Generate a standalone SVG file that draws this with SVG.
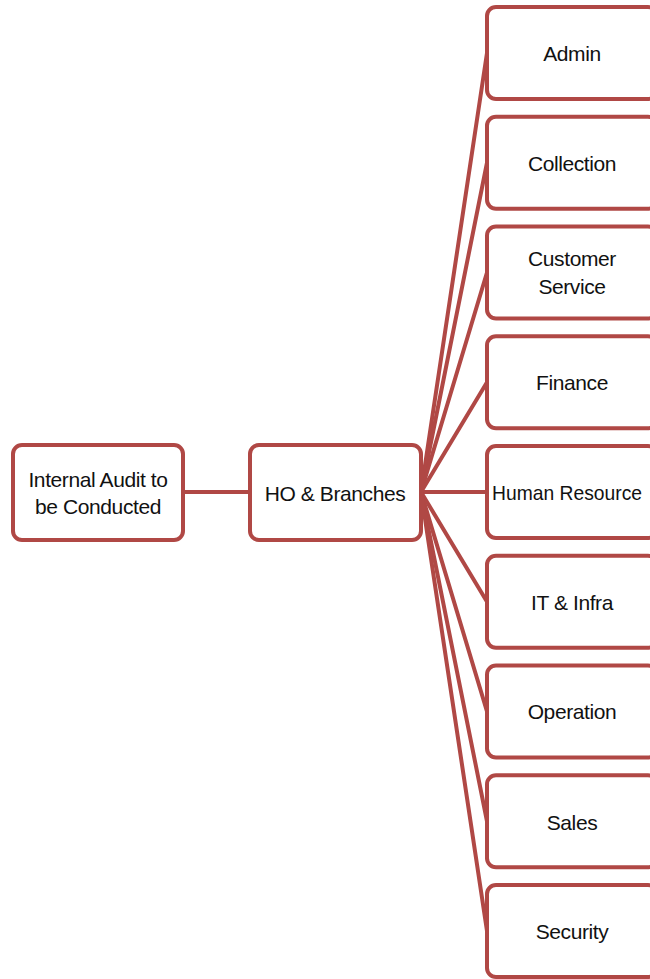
<svg xmlns="http://www.w3.org/2000/svg" width="650" height="979" viewBox="0 0 650 979">
<style>
.box{fill:#ffffff;stroke:#b04845;stroke-width:4}
.ln{stroke:#b04845;stroke-width:4;fill:none;stroke-linecap:round}
text{font-family:"Liberation Sans",Arial,sans-serif;font-size:21px;letter-spacing:-0.4px;fill:#111111;text-anchor:middle}
</style>
<rect width="650" height="979" fill="#ffffff"/>
<g id="connectors">
<line class="ln" x1="183" y1="492" x2="250" y2="492"/>
<line class="ln" x1="421" y1="492" x2="487" y2="53"/>
<line class="ln" x1="421" y1="492" x2="487" y2="162.75"/>
<line class="ln" x1="421" y1="492" x2="487" y2="272.5"/>
<line class="ln" x1="421" y1="492" x2="487" y2="382.25"/>
<line class="ln" x1="421" y1="492" x2="487" y2="492"/>
<line class="ln" x1="421" y1="492" x2="487" y2="601.75"/>
<line class="ln" x1="421" y1="492" x2="487" y2="711.5"/>
<line class="ln" x1="421" y1="492" x2="487" y2="821.25"/>
<line class="ln" x1="421" y1="492" x2="487" y2="931"/>
</g>
<g id="root">
<rect class="box" x="13" y="445" width="170" height="95" rx="9"/>
<text x="98" y="487">Internal Audit to</text>
<text x="98" y="514">be Conducted</text>
</g>
<g id="ho">
<rect class="box" x="250" y="445" width="171" height="95" rx="9"/>
<text x="335" y="501">HO &amp; Branches</text>
</g>
<g id="admin">
<rect class="box" x="487" y="7" width="170" height="92" rx="9"/>
<text x="572" y="61">Admin</text>
</g>
<g id="collection">
<rect class="box" x="487" y="116.75" width="170" height="92" rx="9"/>
<text x="572" y="171">Collection</text>
</g>
<g id="customer-service">
<rect class="box" x="487" y="226.5" width="170" height="92" rx="9"/>
<text x="572" y="266">Customer</text>
<text x="572" y="294">Service</text>
</g>
<g id="finance">
<rect class="box" x="487" y="336.25" width="170" height="92" rx="9"/>
<text x="572" y="390">Finance</text>
</g>
<g id="human-resources">
<rect class="box" x="487" y="446" width="170" height="92" rx="9"/>
<text x="492" y="500" style="text-anchor:start;letter-spacing:0" textLength="150" lengthAdjust="spacingAndGlyphs">Human Resource</text>
</g>
<g id="it-infra">
<rect class="box" x="487" y="555.75" width="170" height="92" rx="9"/>
<text x="572" y="610">IT &amp; Infra</text>
</g>
<g id="operation">
<rect class="box" x="487" y="665.5" width="170" height="92" rx="9"/>
<text x="572" y="719">Operation</text>
</g>
<g id="sales">
<rect class="box" x="487" y="775.25" width="170" height="92" rx="9"/>
<text x="572" y="830">Sales</text>
</g>
<g id="security">
<rect class="box" x="487" y="885" width="170" height="92" rx="9"/>
<text x="572" y="939">Security</text>
</g>
</svg>
